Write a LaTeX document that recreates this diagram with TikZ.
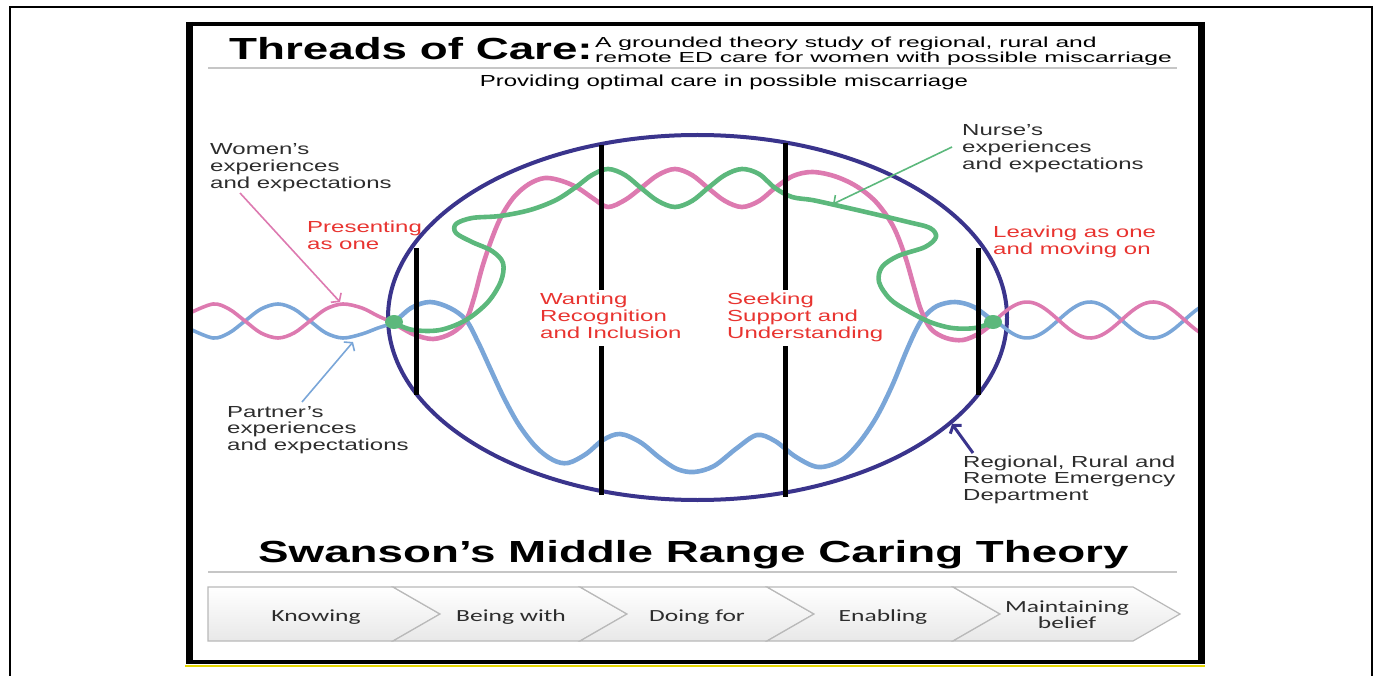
\documentclass[tikz,border=0pt]{standalone}
\usepackage{fontspec}
\setmainfont{Liberation Sans}
\newfontfamily\chevfont{Carlito}
\usepackage{graphicx}
\usetikzlibrary{arrows.meta,shadings}

\definecolor{threadpink}{RGB}{221,122,176}
\definecolor{threadblue}{RGB}{122,166,216}
\definecolor{threadgreen}{RGB}{92,184,124}
\definecolor{edrim}{RGB}{58,52,140}
\definecolor{phasered}{RGB}{232,52,48}
\definecolor{labelgray}{RGB}{45,45,45}
\definecolor{rimyellow}{RGB}{228,214,0}

% the source is stretched sideways, so every text is too
\newcommand{\wtxt}[2][l]{\scalebox{1.5}[1]{\begin{tabular}[t]{@{}#1@{}}#2\end{tabular}}}

\tikzset{
  lbl/.style={anchor=base west, inner sep=0pt, text=labelgray, font=\fontsize{16}{16.5}\selectfont},
  phase/.style={lbl, text=phasered},
  headline/.style={anchor=base west, inner sep=0pt, font=\fontsize{30.5}{30}\selectfont\bfseries},
  thread/.style={line width=4.6pt, line cap=round, line join=round},
  strand/.style={line width=3.6pt, line cap=round},
  phasebar/.style={line width=5pt},
  pointer/.style={line width=1.6pt, -{Straight Barb[length=5pt,width=14pt]}},
  chev/.style={draw=gray!55, line width=1.2pt, top color=white, bottom color=gray!18},
  chevtext/.style={anchor=base, inner sep=0pt, text=labelgray, font=\chevfont\fontsize{17}{14.5}\selectfont}
}

\begin{document}
\begin{tikzpicture}[x=1pt, y=-1pt]
    \useasboundingbox (0,0) rectangle (1381,676);
    \coordinate (edcentre) at (697.5,317.5);
    \coordinate (B1t) at (416,248);
    \coordinate (B1b) at (416,395);
    \coordinate (B2t) at (601,145);
    \coordinate (B2m) at (601,290);
    \coordinate (B2n) at (601,346);
    \coordinate (B2b) at (601,495);
    \coordinate (B3t) at (785,143);
    \coordinate (B3m) at (785,290);
    \coordinate (B3n) at (785,346);
    \coordinate (B3b) at (785,497);
    \coordinate (B4t) at (978,248);
    \coordinate (B4b) at (978,395);

    \draw[edrim, line width=4pt] (edcentre) ellipse [x radius=309.5, y radius=182.5]; % emergency department

    % threads outside
    \draw[strand, threadblue] plot[smooth, tension=0.55] coordinates {(190,329) (213,338) (229,333) (245,321) (261,309) (278,304) (294,309) (310,321) (326,333) (343,338) (362,334) (378,328) (394,323)};
    \draw[strand, threadpink] plot[smooth, tension=0.55] coordinates {(190,313) (213,304) (229,309) (245,321) (261,333) (278,338) (294,333) (310,321) (326,309) (343,304) (362,308) (378,316) (394,323)};
    \draw[strand, threadblue] plot[domain=994:1199, samples=60] (\x, {320+18*cos((\x-1027)*2.857)});
    \draw[strand, threadpink] plot[domain=994:1199, samples=60] (\x, {320-18*cos((\x-1027)*2.857)});

    % threads inside
    \draw[thread, threadblue] plot[smooth, tension=0.55] coordinates {(394,323) (411,308) (430,302) (450,308) (466,320) (478,342) (490,368) (504,398) (519,425) (536,447) (553,460) (568,463) (586,454) (603,440) (620,434) (640,442) (660,458) (677,469) (694,472) (714,466) (737,448) (757,435) (775,441) (796,457) (818,467) (840,461) (858,444) (876,418) (892,386) (906,352) (916,330) (924,317) (937,306) (955,302) (974,307) (994,322)};
    \draw[thread, threadpink] plot[smooth, tension=0.55] coordinates {(394,323) (413,334) (433,339) (452,333) (466,320) (474,298) (482,268) (491,241) (501,217) (514,197) (529,184) (545,178) (562,181) (578,188) (594,199) (608,207) (625,200) (641,188) (658,175) (675,169) (692,175) (708,188) (725,201) (742,207) (759,201) (775,188) (793,176) (812,172) (834,176) (856,186) (876,202) (893,226) (905,256) (914,287) (921,310) (931,329) (946,338) (963,340) (980,333) (994,322)};
    \draw[thread, threadgreen] plot[smooth, tension=0.55] coordinates {(394,323) (413,330) (440,330) (466,320) (488,302) (501,281) (503,263) (492,251) (472,242) (456,233) (456,224) (472,218) (500,216) (530,210) (556,200) (576,187) (592,175) (608,169) (625,175) (641,188) (658,201) (675,207) (692,201) (708,188) (725,175) (742,169) (759,174) (775,188) (792,197) (812,200) (835,205) (870,213) (908,222) (930,228) (936,237) (925,247) (898,256) (882,267) (879,282) (890,299) (908,311) (930,322) (952,328) (975,328) (994,322)};

    % phase bars
    \draw[phasebar] (B1t) -- (B1b);
    \draw[phasebar] (B2t) -- (B2m);
    \draw[phasebar] (B2n) -- (B2b);
    \draw[phasebar] (B3t) -- (B3m);
    \draw[phasebar] (B3n) -- (B3b);
    \draw[phasebar] (B4t) -- (B4b);

    \fill[threadgreen] (394,322) ellipse [x radius=9, y radius=7]; % in
    \fill[threadgreen] (993,322) ellipse [x radius=9, y radius=7]; % out

    % labels
    \node[lbl] (women) at (210,155) {\wtxt{Women's\\experiences\\and expectations}};
    \node[lbl] (partner) at (227,417) {\wtxt{Partner's\\experiences\\and expectations}};
    \node[lbl] (nurse) at (962,136) {\wtxt{Nurse's\\experiences\\and expectations}};
    \node[lbl] (regional) at (963,467) {\wtxt{Regional, Rural and\\Remote Emergency\\Department}};
    \node[phase] (presenting) at (307,233) {\wtxt{Presenting\\as one}};
    \node[phase] (wanting) at (540,305) {\wtxt{Wanting\\Recognition\\and Inclusion}};
    \node[phase] (seeking) at (727,305) {\wtxt{Seeking\\Support and\\Understanding}};
    \node[phase] (leaving) at (993,238) {\wtxt{Leaving as one\\and moving on}};

    \coordinate (womenFoot) at (240,193);
    \coordinate (womenTip) at (340,302);
    \coordinate (partnerFoot) at (302,402);
    \coordinate (partnerTip) at (353,342);
    \coordinate (nurseFoot) at (952,147);
    \coordinate (nurseTip) at (833,204);
    \coordinate (regionalFoot) at (973,453);
    \coordinate (regionalTip) at (952,424);
    \draw[pointer, threadpink] (womenFoot) -- (womenTip);
    \draw[pointer, threadblue] (partnerFoot) -- (partnerTip);
    \draw[pointer, threadgreen] (nurseFoot) -- (nurseTip);
    \draw[pointer, edrim, line width=3pt] (regionalFoot) -- (regionalTip);

    % headings
    \node[headline] (threads) at (229,60) {\wtxt{Threads of Care:}};
    \node[lbl, text=black, font=\fontsize{14.5}{14.5}\selectfont] (study) at (595,47.5) {\scalebox{1.7}[1]{\begin{tabular}[t]{@{}l@{}}A grounded theory study of regional, rural and\\remote ED care for women with possible miscarriage\end{tabular}}};
    \node[lbl, anchor=base, text=black] (optimal) at (724,87) {\wtxt{Providing optimal care in possible miscarriage}};
    \draw[gray!45, line width=1.5pt] (208,68) -- (1177,68);
    \node[headline] (swanson) at (258,562) {\wtxt{Swanson’s Middle Range Caring Theory}};
    \draw[gray!45, line width=1.5pt] (208,572) -- (1177,572);

    % caring chevrons
    \draw[chev] (208,587) -- (393,587) -- (440,614) -- (393,641) -- (208,641) -- cycle;
    \draw[chev] (393,587) -- (580,587) -- (627,614) -- (580,641) -- (393,641) -- (440,614) -- cycle;
    \draw[chev] (580,587) -- (767,587) -- (814,614) -- (767,641) -- (580,641) -- (627,614) -- cycle;
    \draw[chev] (767,587) -- (953,587) -- (1000,614) -- (953,641) -- (767,641) -- (814,614) -- cycle;
    \draw[chev] (953,587) -- (1133,587) -- (1180,614) -- (1133,641) -- (953,641) -- (1000,614) -- cycle;
    \node[chevtext] (knowing) at (316,621) {\wtxt[c]{Knowing}};
    \node[chevtext] (beingwith) at (511,621) {\wtxt[c]{Being with}};
    \node[chevtext] (doingfor) at (697,621) {\wtxt[c]{Doing for}};
    \node[chevtext] (enabling) at (883,621) {\wtxt[c]{Enabling}};
    \node[chevtext] (maintaining) at (1067,612) {\wtxt[c]{Maintaining\\belief}};

    % frames
    \draw[line width=2pt] (10,7) rectangle (1372,700);
    \draw[rimyellow, line width=1.5pt] (185,666) -- (1205,666);
    \draw[line width=4pt] (188,24) rectangle (1201,662);
    \draw[line width=7pt] (189,22) -- (189,664);
    \draw[line width=7pt] (1201,22) -- (1201,664);
\end{tikzpicture}
\end{document}
